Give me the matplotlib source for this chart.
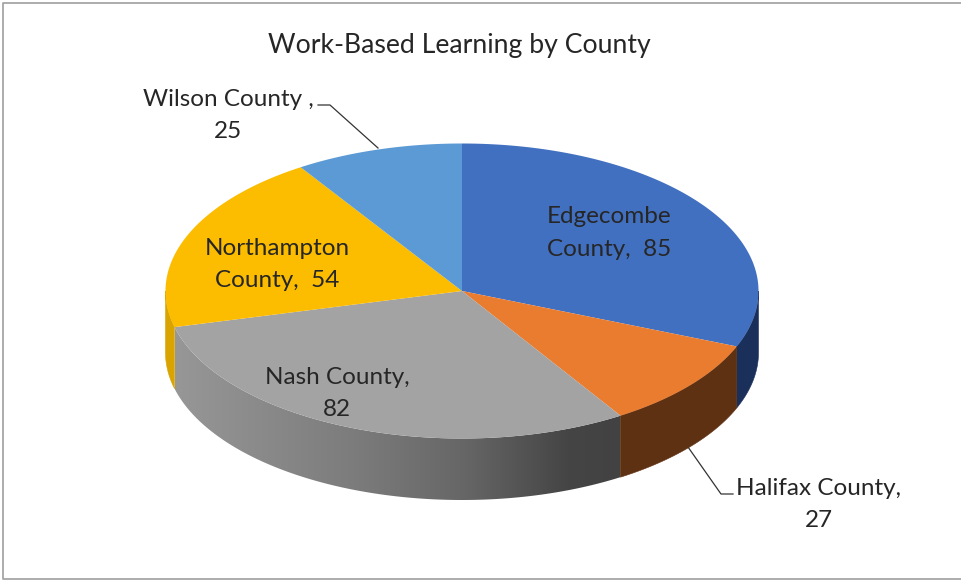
import numpy as np
import matplotlib
matplotlib.use("Agg")
import matplotlib.pyplot as plt
from matplotlib.colors import LinearSegmentedColormap
from matplotlib.patches import Polygon

counties = ["Edgecombe County", "Halifax County", "Nash County", "Northampton County", "Wilson County"]
values = [85, 27, 82, 54, 25]
top_colors = ["#4270c0", "#ea7c30", "#a3a3a3", "#fcbd00", "#5b9ad5"]
side_colors = ["#1a2f5a", "#5f3113", None, "#d9a300", "#2f5f8a"]

# pie geometry in image pixels
CX, CY = 462, 291
RX, RY = 296.5, 147.5
DEPTH = 61.5
FONT = "Lato"
TEXT = "#262626"
BORDER = "#a6a6a6"


def rim(a0, a1, n=200):
    t = np.radians(np.linspace(a0, a1, n))
    return CX + RX * np.sin(t), CY - RY * np.cos(t)


fig = plt.figure(figsize=(9.62, 5.81), dpi=100)
ax = fig.add_axes([0, 0, 1, 1])
ax.axis("off")

# frame has no right edge in the reference
ax.plot([962, 3, 3, 962], [3, 3, 579, 579], color=BORDER, lw=1.3)

angles = np.concatenate([[0], np.cumsum(values) / sum(values) * 360])

# sides first, only the part of each slice facing front (90..270 degrees)
for i in range(len(values)):
    a0, a1 = max(angles[i], 90), min(angles[i + 1], 270)
    if a0 >= a1:
        continue
    x, y = rim(a0, a1)
    pts = np.vstack([np.c_[x, y], np.c_[x[::-1], y[::-1] + DEPTH]])
    if side_colors[i] is None:
        # Nash side has a horizontal gradient
        poly = Polygon(pts, closed=True, facecolor="none", edgecolor="none")
        ax.add_patch(poly)
        grad = np.linspace(0, 1, 256).reshape(1, -1)
        cmap = LinearSegmentedColormap.from_list(
            "side", [(0, "#979797"), (0.4, "#7c7c7c"), (0.65, "#666666"), (0.88, "#454545"), (1, "#424242")])
        im = ax.imshow(grad, cmap=cmap, aspect="auto", extent=(x.min(), x.max() + 1, 581, 0), zorder=1)
        im.set_clip_path(poly)
    else:
        ax.add_patch(Polygon(pts, closed=True, facecolor=side_colors[i],
                             edgecolor=side_colors[i], linewidth=0.4, zorder=1.5))

# top face
for i in range(len(values)):
    x, y = rim(angles[i], angles[i + 1])
    pts = np.vstack([[CX, CY], np.c_[x, y]])
    ax.add_patch(Polygon(pts, closed=True, facecolor=top_colors[i], edgecolor="none", zorder=2))

# leader lines
ax.plot([318, 330, 378], [105, 105, 148], color="#333333", lw=0.9, zorder=3)
ax.plot([688, 721, 733], [447, 494, 494], color="#333333", lw=0.9, zorder=0.5)

ax.set_xlim(0, 962)
ax.set_ylim(581, 0)

ax.text(459, 45, "Work-Based Learning by County", ha="center", va="center",
        family=FONT, fontsize=19.2, color=TEXT)
labels = [
    (609, 233, "Edgecombe\nCounty,  %d" % values[0]),
    (819, 504.5, "Halifax County,\n%d" % values[1]),
    (337, 393.5, "Nash County,\n%d" % values[2]),
    (277, 264.5, "Northampton\nCounty,  %d" % values[3]),
    (228.5, 115.5, "Wilson County ,\n%d" % values[4]),
]
for x, y, s in labels:
    ax.text(x, y, s, ha="center", va="center", family=FONT, fontsize=17.5,
            color=TEXT, linespacing=1.65, zorder=4)

fig.savefig("out.png", dpi=100)
